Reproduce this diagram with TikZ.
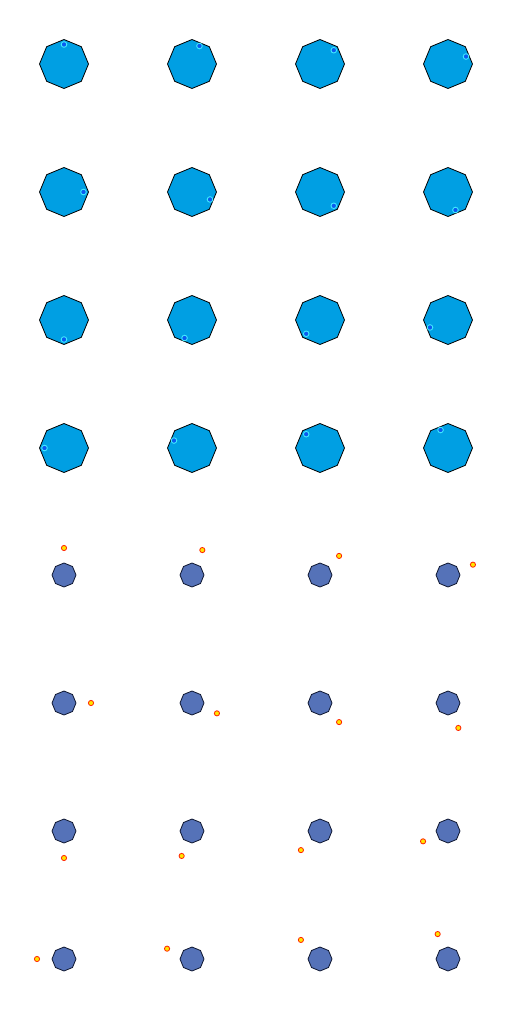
\documentclass[tikz,border=0pt]{standalone}
\begin{document}
\begin{tikzpicture}[x=1pt,y=-1pt,
  bigoct/.style={fill=bigfill,draw=black,line width=0.8pt,line join=miter},
  smalloct/.style={fill=smallfill,draw=smalledge,line width=0.8pt},
  bluedot/.style={fill=dotblue,draw=dotcyan,line width=0.9pt},
  orangedot/.style={fill=dotyellow,draw=dotred,line width=0.8pt}]
\definecolor{bigfill}{HTML}{009FE3}
\definecolor{smallfill}{HTML}{5572B8}
\definecolor{smalledge}{HTML}{0E1630}
\definecolor{dotblue}{HTML}{0A5AF0}
\definecolor{dotcyan}{HTML}{40E8FF}
\definecolor{dotyellow}{HTML}{FFE600}
\definecolor{dotred}{HTML}{FF2000}
\useasboundingbox (0,0) rectangle (512,1024);
\foreach \k in {0,...,15}{
  \pgfmathtruncatemacro{\col}{mod(\k,4)}
  \pgfmathtruncatemacro{\row}{div(\k,4)}
  \pgfmathsetmacro{\cx}{64+128*\col}
  \pgfmathsetmacro{\cy}{64+128*\row}
  \pgfmathsetmacro{\ang}{90-22.5*\k}
  \draw[bigoct] (\cx+24.5,\cy) -- (\cx+17.32,\cy-17.32) -- (\cx,\cy-24.5) -- (\cx-17.32,\cy-17.32) -- (\cx-24.5,\cy) -- (\cx-17.32,\cy+17.32) -- (\cx,\cy+24.5) -- (\cx+17.32,\cy+17.32) -- cycle;
  \draw[bluedot] ({\cx+19.5*cos(\ang)},{\cy-19.5*sin(\ang)}) circle (2.8);
  \pgfmathsetmacro{\sy}{575+128*\row}
  \draw[smalloct] (\cx+12,\sy) -- (\cx+8.49,\sy-8.49) -- (\cx,\sy-12) -- (\cx-8.49,\sy-8.49) -- (\cx-12,\sy) -- (\cx-8.49,\sy+8.49) -- (\cx,\sy+12) -- (\cx+8.49,\sy+8.49) -- cycle;
  \draw[orangedot] ({\cx+27*cos(\ang)},{\sy-27*sin(\ang)}) circle (2.6);
}
\end{tikzpicture}
\end{document}
